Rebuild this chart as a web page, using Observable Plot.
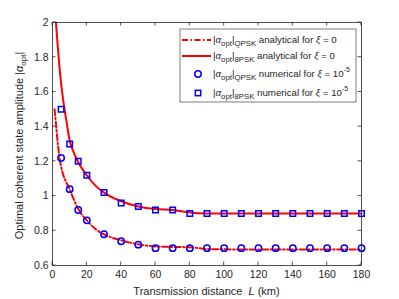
<!DOCTYPE html>
<html><head><meta charset="utf-8">
<script src="https://cdn.jsdelivr.net/npm/d3@7"></script>
<script src="https://cdn.jsdelivr.net/npm/@observablehq/plot@0.6"></script>
<style>body{margin:0;background:#fff}svg{font-family:"Liberation Sans",Arial,sans-serif}</style>
</head><body><div id="chart"></div>
<script>
// Analytical curves (xi = 0)
const anaQPSK_L = [1.2, 2, 3, 4, 5, 6, 8, 10, 12, 15, 20, 25, 30, 40, 50, 60, 70, 80, 90, 100, 120, 140, 160, 180];
const anaQPSK_V = [1.50, 1.42, 1.31, 1.23, 1.17, 1.13, 1.08, 1.04, 0.99, 0.925, 0.86, 0.81, 0.78, 0.745, 0.722, 0.71, 0.707, 0.705, 0.695, 0.693, 0.692, 0.692, 0.692, 0.692];
const ana8PSK_L = [2, 3, 4, 5, 6, 7, 8, 10, 12, 15, 20, 25, 30, 40, 50, 60, 70, 80, 90, 100, 120, 140, 160, 180];
const ana8PSK_V = [2.00, 1.87, 1.75, 1.65, 1.57, 1.50, 1.44, 1.32, 1.26, 1.195, 1.12, 1.06, 1.02, 0.97, 0.94, 0.925, 0.92, 0.905, 0.90, 0.90, 0.90, 0.90, 0.90, 0.90];
// Numerical results (xi = 1e-5)
const numL = [5, 10, 15, 20, 30, 40, 50, 60, 70, 80, 90, 100, 110, 120, 130, 140, 150, 160, 170, 180];
const numQPSK = [1.22, 1.04, 0.92, 0.86, 0.78, 0.74, 0.72, 0.70, 0.70, 0.70, 0.70, 0.70, 0.70, 0.70, 0.70, 0.70, 0.70, 0.70, 0.70, 0.70];
const num8PSK = [1.50, 1.30, 1.20, 1.12, 1.02, 0.96, 0.94, 0.92, 0.92, 0.90, 0.90, 0.90, 0.90, 0.90, 0.90, 0.90, 0.90, 0.90, 0.90, 0.90];
const xTicks = [0, 20, 40, 60, 80, 100, 120, 140, 160, 180];
const yTicks = [0.6, 0.8, 1, 1.2, 1.4, 1.6, 1.8, 2];

const qA = anaQPSK_L.map((L, i) => ({L, v: anaQPSK_V[i]}));
const eA = ana8PSK_L.map((L, i) => ({L, v: ana8PSK_V[i]}));
const qN = numL.map((L, i) => ({L, v: numQPSK[i]}));
const eN = numL.map((L, i) => ({L, v: num8PSK[i]}));

const axisColor = "#262626";
const chart = Plot.plot({
  width: 399, height: 299,
  marginLeft: 52, marginRight: 38, marginTop: 22, marginBottom: 34,
  style: {fontFamily: '"Liberation Sans", Arial, sans-serif', fontSize: "10.5px", color: axisColor, background: "#fff"},
  x: {domain: [0, 180], ticks: xTicks},
  y: {domain: [0.6, 2], ticks: yTicks},
  marks: [
    Plot.axisX(xTicks, {tickSize: 0, tickPadding: 5, tickFormat: d => String(d), label: null, fill: axisColor}),
    Plot.axisY(yTicks, {tickSize: 0, tickPadding: 4, tickFormat: d => String(d), label: null, fill: axisColor}),
    Plot.line(qA, {x: "L", y: "v", stroke: "#ff0000", strokeWidth: 2, strokeDasharray: "6,2.5,1.5,2.5", curve: "monotone-x"}),
    Plot.line(eA, {x: "L", y: "v", stroke: "#ff0000", strokeWidth: 2, curve: "monotone-x"}),
    Plot.dot(qN, {x: "L", y: "v", r: 3.2, stroke: "#0000ff", strokeWidth: 1.5, symbol: "circle"}),
    Plot.dot(eN, {x: "L", y: "v", r: 3.1, stroke: "#0000ff", strokeWidth: 1.5, symbol: "square"}),
    Plot.frame({stroke: axisColor, strokeWidth: 0.8})
  ]
});

const svg = d3.select(chart);
const sx = chart.scale("x"), sy = chart.scale("y");
const x0 = sx.range[0], x1 = sx.range[1], y0 = sy.range[0], y1 = sy.range[1];
const tk = svg.append("g").attr("stroke", axisColor).attr("stroke-width", 0.8);
const T = 3.5;
xTicks.forEach(t => {
  const px = sx.apply(t);
  tk.append("line").attr("x1", px).attr("x2", px).attr("y1", y0).attr("y2", y0 - T);
  tk.append("line").attr("x1", px).attr("x2", px).attr("y1", y1).attr("y2", y1 + T);
});
yTicks.forEach(t => {
  const py = sy.apply(t);
  tk.append("line").attr("y1", py).attr("y2", py).attr("x1", x0).attr("x2", x0 + T);
  tk.append("line").attr("y1", py).attr("y2", py).attr("x1", x1).attr("x2", x1 - T);
});

// Axis labels
const xl = svg.append("text").attr("x", (x0 + x1) / 2).attr("y", 295).attr("text-anchor", "middle")
  .attr("font-size", 11).attr("fill", axisColor);
xl.append("tspan").text("Transmission distance  ");
xl.append("tspan").attr("font-style", "italic").text("L");
xl.append("tspan").text(" (km)");

const yl = svg.append("text").attr("transform", `translate(23,${(y0 + y1) / 2 + 2}) rotate(-90)`)
  .attr("text-anchor", "middle").attr("font-size", 11).attr("fill", axisColor);
yl.append("tspan").text("Optimal coherent state amplitude |");
yl.append("tspan").attr("font-style", "italic").text("α");
yl.append("tspan").attr("font-size", 8).attr("dy", 3).text("opt");
yl.append("tspan").attr("dy", -3).text("|");

// Legend
const lg = svg.append("g");
lg.append("rect").attr("x", 180).attr("y", 29).attr("width", 176).attr("height", 73)
  .attr("fill", "#fff").attr("stroke", axisColor).attr("stroke-width", 0.6);
const rows = [
  {y: 40, kind: "dashdot", mod: "QPSK", txt: " analytical for ", xi: "0"},
  {y: 56, kind: "solid", mod: "8PSK", txt: " analytical for ", xi: "0"},
  {y: 74, kind: "circle", mod: "QPSK", txt: " numerical for ", xi: "10", sup: "-5"},
  {y: 93, kind: "square", mod: "8PSK", txt: " numerical for ", xi: "10", sup: "-5"}
];
rows.forEach(r => {
  if (r.kind === "dashdot" || r.kind === "solid") {
    lg.append("line").attr("x1", 182).attr("x2", 211).attr("y1", r.y).attr("y2", r.y)
      .attr("stroke", "#ff0000").attr("stroke-width", 2)
      .attr("stroke-dasharray", r.kind === "dashdot" ? "6,2.5,1.5,2.5" : null);
  } else if (r.kind === "circle") {
    lg.append("circle").attr("cx", 198).attr("cy", r.y).attr("r", 3.2).attr("fill", "none")
      .attr("stroke", "#0000ff").attr("stroke-width", 1.5);
  } else {
    lg.append("rect").attr("x", 195.3).attr("y", r.y - 2.7).attr("width", 5.4).attr("height", 5.4)
      .attr("fill", "none").attr("stroke", "#0000ff").attr("stroke-width", 1.5);
  }
  const t = lg.append("text").attr("x", 213).attr("y", r.y + 3).attr("text-anchor", "start")
    .attr("font-size", 9.7).attr("fill", axisColor);
  t.append("tspan").text("|");
  t.append("tspan").attr("font-style", "italic").text("α");
  t.append("tspan").attr("font-size", 7.8).attr("dy", 3).text("opt");
  t.append("tspan").attr("dy", -3).text("|");
  t.append("tspan").attr("font-size", 7.8).attr("dy", 3).text(r.mod);
  t.append("tspan").attr("dy", -3).text(r.txt);
  t.append("tspan").attr("font-style", "italic").text("ξ");
  t.append("tspan").text(" = " + r.xi);
  if (r.sup) t.append("tspan").attr("font-size", 7).attr("dy", -5).text(r.sup);
});

document.getElementById("chart").appendChild(chart);
</script>
</body></html>
